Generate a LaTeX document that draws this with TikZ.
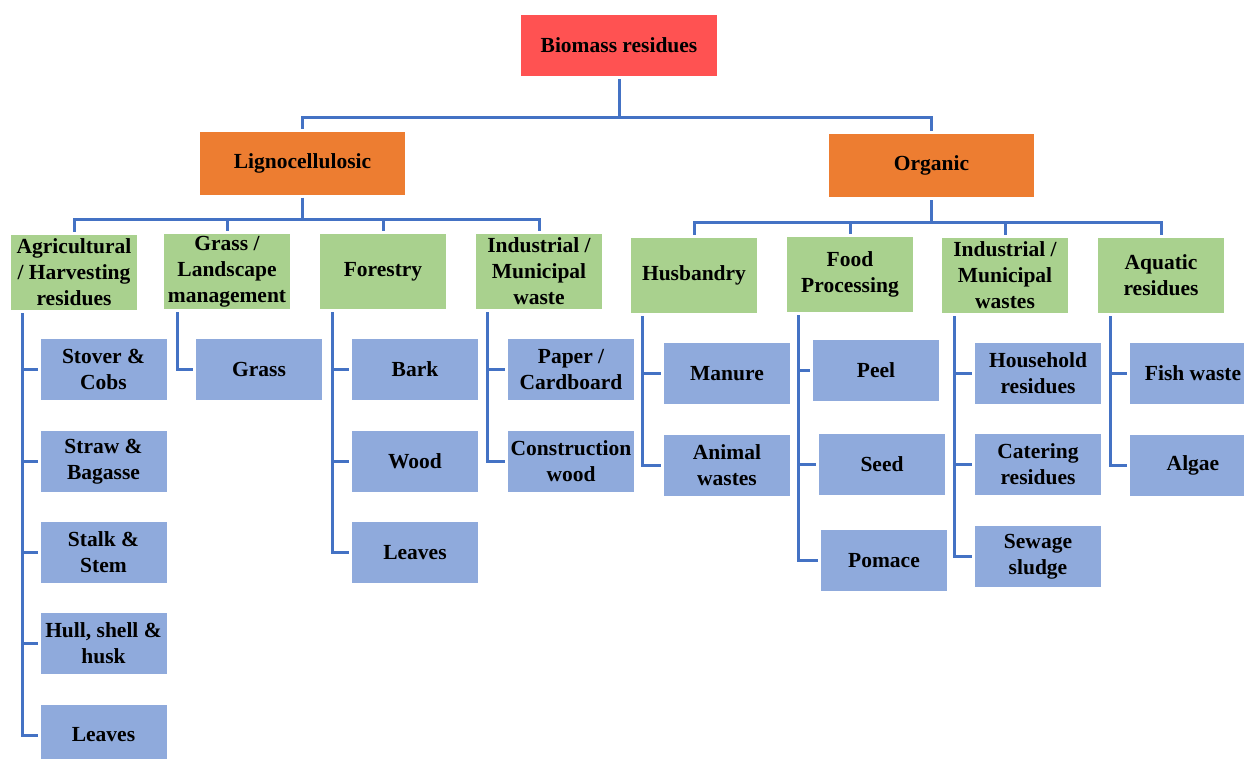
\documentclass[tikz,border=0pt]{standalone}
\usepackage{fontspec}
\setmainfont{Liberation Serif}
\usepackage{tikz}

\definecolor{rootred}{HTML}{FF5252}
\definecolor{catorange}{HTML}{ED7D31}
\definecolor{groupgreen}{HTML}{A9D18E}
\definecolor{itemblue}{HTML}{8FAADC}
\definecolor{linkblue}{HTML}{4472C4}

\begin{document}
\begin{tikzpicture}[x=1pt,y=-1pt,
  box/.style={inner sep=0pt,outer sep=3pt,align=center,
    font=\fontsize{21.5}{26}\selectfont\bfseries},
  rootbox/.style={box,fill=rootred,minimum width=196pt,minimum height=61pt},
  catbox/.style={box,fill=catorange,minimum width=205pt,minimum height=63pt},
  groupbox/.style={box,fill=groupgreen,minimum width=126pt,minimum height=75pt},
  itembox/.style={box,fill=itemblue,minimum width=126pt,minimum height=61pt},
  link/.style={draw=linkblue,line width=3pt}]

\useasboundingbox (0,0) rectangle (1244,758);
\clip (0,0) rectangle (1244,758);

%Top levels
\node[rootbox] (root) at (619,45.5) {Biomass residues};
\node[catbox] (ligno) at (302.5,163) {Lignocellulosic};
\node[catbox] (organic) at (931.5,165.5) {Organic};

%Groups
\node[groupbox] (agri) at (74,272.5) {Agricultural\\/ Harvesting\\residues};
\node[groupbox] (grass) at (227,271.5) {Grass /\\Landscape\\management};
\node[groupbox] (forest) at (383,271.5) {Forestry};
\node[groupbox] (indw) at (539,271.5) {Industrial /\\Municipal\\waste};
\node[groupbox] (husb) at (694,275.5) {Husbandry};
\node[groupbox] (food) at (850,274.5) {Food\\Processing};
\node[groupbox] (indo) at (1005,275.5) {Industrial /\\Municipal\\wastes};
\node[groupbox] (aqua) at (1161,275.5) {Aquatic\\residues};

%Items
\node[itembox] (stover) at (103.5,369.5) {Stover \&\\Cobs};
\node[itembox] (straw) at (103.5,461.5) {Straw \&\\Bagasse};
\node[itembox] (stalk) at (103.5,552.5) {Stalk \&\\Stem};
\node[itembox] (hull) at (103.5,643.5) {Hull, shell \&\\husk};
\node[itembox] (leavesA) at (103.5,735) {Leaves};

\node[itembox] (grassB) at (259,369.5) {Grass};

\node[itembox] (bark) at (415,369.5) {Bark};
\node[itembox] (wood) at (415,461.5) {Wood};
\node[itembox] (leavesF) at (415,552.5) {Leaves};

\node[itembox] (paper) at (571,369.5) {Paper /\\Cardboard};
\node[itembox] (constr) at (571,461.5) {Construction\\wood};

\node[itembox] (manure) at (727,373.5) {Manure};
\node[itembox] (animal) at (727,465.5) {Animal\\wastes};

\node[itembox] (peel) at (876,370.5) {Peel};
\node[itembox] (seed) at (882,464.5) {Seed};
\node[itembox] (pomace) at (884,560.5) {Pomace};

\node[itembox] (house) at (1038,373.5) {Household\\residues};
\node[itembox] (cater) at (1038,464.5) {Catering\\residues};
\node[itembox] (sewage) at (1038,556.5) {Sewage\\sludge};

\node[itembox] (fish) at (1193,373.5) {Fish waste};
\node[itembox] (algae) at (1193,465.5) {Algae};

%Connectors
\coordinate (rootbus) at (619,117);
\draw[link] (root.south) -- (rootbus);
\draw[link] (rootbus) -| (ligno.north);
\draw[link] (rootbus) -| (organic.north);

\coordinate (lignobus) at (302.5,219);
\draw[link] (ligno.south) -- (lignobus);
\foreach \g in {agri,grass,forest,indw}
  \draw[link] (lignobus) -| (\g.north);

\coordinate (orgbus) at (931.5,222);
\draw[link] (organic.south) -- (orgbus);
\foreach \g in {husb,food,indo,aqua}
  \draw[link] (orgbus) -| (\g.north);

\foreach \i in {stover,straw,stalk,hull,leavesA}
  \draw[link] ([xshift=14.5pt]agri.south west) |- (\i.west);
\draw[link] ([xshift=16pt]grass.south west) |- (grassB.west);
\foreach \i in {bark,wood,leavesF}
  \draw[link] ([xshift=15pt]forest.south west) |- (\i.west);
\foreach \i in {paper,constr}
  \draw[link] ([xshift=14pt]indw.south west) |- (\i.west);
\foreach \i in {manure,animal}
  \draw[link] ([xshift=14pt]husb.south west) |- (\i.west);
\foreach \i in {peel,seed,pomace}
  \draw[link] ([xshift=14pt]food.south west) |- (\i.west);
\foreach \i in {house,cater,sewage}
  \draw[link] ([xshift=15pt]indo.south west) |- (\i.west);
\foreach \i in {fish,algae}
  \draw[link] ([xshift=15pt]aqua.south west) |- (\i.west);

\end{tikzpicture}
\end{document}
